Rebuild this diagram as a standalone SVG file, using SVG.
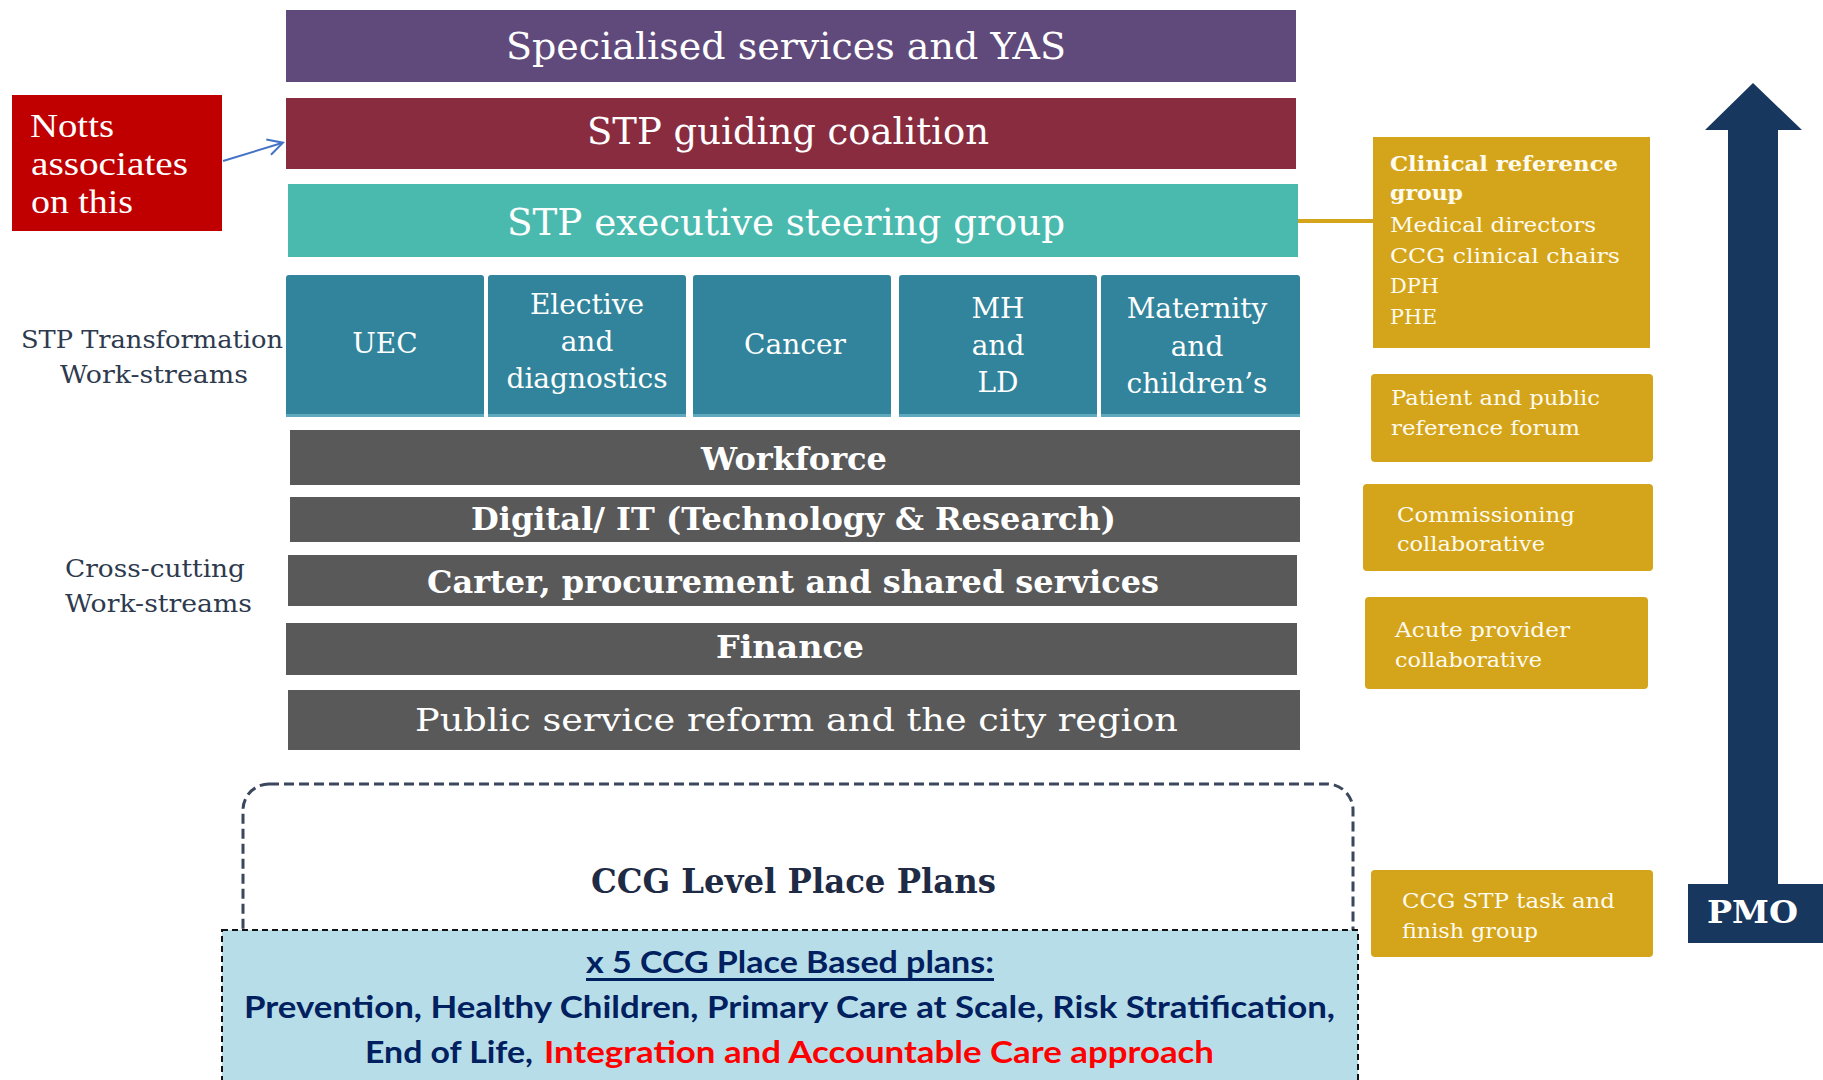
<svg xmlns="http://www.w3.org/2000/svg" width="1823" height="1080" viewBox="0 0 1823 1080">
<defs>
<style>
.slab{font-family:"DejaVu Serif","Liberation Serif",serif;}
.title{font-size:37px;fill:#ffffff;}
.ws{font-size:28px;fill:#ffffff;text-anchor:middle;}
.cc{font-size:31px;fill:#ffffff;font-weight:bold;}
.ccr{font-size:31px;fill:#ffffff;}
.lbl{font-size:25px;fill:#2E3A4E;}
.gold{fill:#D4A51B;}
.gt{font-size:20px;fill:#FFFBEF;}
.cal{font-family:Lato,"Open Sans","Liberation Sans",sans-serif;font-weight:bold;font-size:31px;}
.navy{fill:#002060;}
.red{fill:#FF0000;}
.notts{font-family:"Liberation Serif","DejaVu Serif",serif;font-size:34px;fill:#ffffff;}
.wsbox{fill:#31849B;}
.wsline{fill:#5FA9BF;}
.grey{fill:#595959;}
</style>
<marker id="openArrow" markerWidth="18" markerHeight="18" refX="15" refY="9" orient="auto" markerUnits="userSpaceOnUse">
<path d="M1,1 L16,9 L1,17" fill="none" stroke="#4472C4" stroke-width="2"/>
</marker>
</defs>
<rect width="1823" height="1080" fill="#ffffff"/>

<g id="specialised">
<rect x="286" y="10" width="1010" height="72" fill="#604A7B"/>
<text class="slab title" x="506" y="59" textLength="560" lengthAdjust="spacingAndGlyphs">Specialised services and YAS</text>
</g>
<g id="guiding-coalition">
<rect x="286" y="98" width="1010" height="71" fill="#892C40"/>
<text class="slab title" x="587" y="144" textLength="402" lengthAdjust="spacingAndGlyphs">STP guiding coalition</text>
</g>
<g id="exec-steering">
<rect x="288" y="184" width="1010" height="73" fill="#4ABAAF"/>
<text class="slab title" x="507" y="235" textLength="558" lengthAdjust="spacingAndGlyphs">STP executive steering group</text>
</g>

<g id="ws-uec">
<rect class="wsbox" x="286" y="275" width="198" height="142" rx="3"/>
<rect class="wsline" x="286" y="414" width="198" height="3"/>
<text class="slab ws" x="385" y="353">UEC</text>
</g>
<g id="ws-elective">
<rect class="wsbox" x="488" y="275" width="198" height="142" rx="3"/>
<rect class="wsline" x="488" y="414" width="198" height="3"/>
<text class="slab ws" x="587" y="314">Elective</text>
<text class="slab ws" x="587" y="351">and</text>
<text class="slab ws" x="587" y="388">diagnostics</text>
</g>
<g id="ws-cancer">
<rect class="wsbox" x="693" y="275" width="198" height="142" rx="3"/>
<rect class="wsline" x="693" y="414" width="198" height="3"/>
<text class="slab ws" x="795" y="354">Cancer</text>
</g>
<g id="ws-mh">
<rect class="wsbox" x="899" y="275" width="198" height="142" rx="3"/>
<rect class="wsline" x="899" y="414" width="198" height="3"/>
<text class="slab ws" x="998" y="318">MH</text>
<text class="slab ws" x="998" y="355">and</text>
<text class="slab ws" x="998" y="392">LD</text>
</g>
<g id="ws-maternity">
<rect class="wsbox" x="1101" y="275" width="199" height="142" rx="3"/>
<rect class="wsline" x="1101" y="414" width="199" height="3"/>
<text class="slab ws" x="1197" y="318">Maternity</text>
<text class="slab ws" x="1197" y="356">and</text>
<text class="slab ws" x="1197" y="393">children’s</text>
</g>

<g id="workforce">
<rect class="grey" x="290" y="430" width="1010" height="55"/>
<text class="slab cc" x="701" y="470" textLength="186" lengthAdjust="spacingAndGlyphs">Workforce</text>
</g>
<g id="digital">
<rect class="grey" x="290" y="497" width="1010" height="45"/>
<text class="slab cc" x="471" y="530" textLength="645" lengthAdjust="spacingAndGlyphs">Digital/ IT (Technology &amp; Research)</text>
</g>
<g id="carter">
<rect class="grey" x="288" y="555" width="1009" height="51"/>
<text class="slab cc" x="427" y="593" textLength="732" lengthAdjust="spacingAndGlyphs">Carter, procurement and shared services</text>
</g>
<g id="finance">
<rect class="grey" x="286" y="623" width="1011" height="52"/>
<text class="slab cc" x="716" y="658" textLength="148" lengthAdjust="spacingAndGlyphs">Finance</text>
</g>
<g id="public-service">
<rect class="grey" x="288" y="690" width="1012" height="60"/>
<text class="slab ccr" x="415" y="731" textLength="763" lengthAdjust="spacingAndGlyphs">Public service reform and the city region</text>
</g>

<g id="label-transformation">
<text class="slab lbl" x="21" y="348" textLength="262" lengthAdjust="spacingAndGlyphs">STP Transformation</text>
<text class="slab lbl" x="60" y="383" textLength="188" lengthAdjust="spacingAndGlyphs">Work-streams</text>
</g>
<g id="label-crosscutting">
<text class="slab lbl" x="65" y="577" textLength="180" lengthAdjust="spacingAndGlyphs">Cross-cutting</text>
<text class="slab lbl" x="65" y="612" textLength="187" lengthAdjust="spacingAndGlyphs">Work-streams</text>
</g>

<g id="notts">
<rect x="12" y="95" width="210" height="136" fill="#C00000"/>
<text class="notts" x="30" y="137" textLength="84" lengthAdjust="spacingAndGlyphs">Notts</text>
<text class="notts" x="31" y="175" textLength="157" lengthAdjust="spacingAndGlyphs">associates</text>
<text class="notts" x="31" y="213" textLength="102" lengthAdjust="spacingAndGlyphs">on this</text>
</g>

<g id="clinical-reference">
<rect class="gold" x="1373" y="137" width="277" height="211"/>
<text class="slab gt" x="1390" y="171" font-weight="bold" textLength="228" lengthAdjust="spacingAndGlyphs">Clinical reference</text>
<text class="slab gt" x="1390" y="200" font-weight="bold" textLength="73" lengthAdjust="spacingAndGlyphs">group</text>
<text class="slab gt" x="1390" y="232" textLength="206" lengthAdjust="spacingAndGlyphs">Medical directors</text>
<text class="slab gt" x="1390" y="263" textLength="230" lengthAdjust="spacingAndGlyphs">CCG clinical chairs</text>
<text class="slab gt" x="1390" y="293" textLength="49" lengthAdjust="spacingAndGlyphs">DPH</text>
<text class="slab gt" x="1390" y="324" textLength="47" lengthAdjust="spacingAndGlyphs">PHE</text>
</g>
<g id="patient-forum">
<rect class="gold" x="1371" y="374" width="282" height="88" rx="4"/>
<text class="slab gt" x="1391" y="405" textLength="209" lengthAdjust="spacingAndGlyphs">Patient and public</text>
<text class="slab gt" x="1391" y="435" textLength="189" lengthAdjust="spacingAndGlyphs">reference forum</text>
</g>
<g id="commissioning">
<rect class="gold" x="1363" y="484" width="290" height="87" rx="4"/>
<text class="slab gt" x="1397" y="522" textLength="178" lengthAdjust="spacingAndGlyphs">Commissioning</text>
<text class="slab gt" x="1397" y="551" textLength="148" lengthAdjust="spacingAndGlyphs">collaborative</text>
</g>
<g id="acute-provider">
<rect class="gold" x="1365" y="597" width="283" height="92" rx="4"/>
<text class="slab gt" x="1395" y="637" textLength="175" lengthAdjust="spacingAndGlyphs">Acute provider</text>
<text class="slab gt" x="1395" y="667" textLength="147" lengthAdjust="spacingAndGlyphs">collaborative</text>
</g>
<g id="ccg-stp-task">
<rect class="gold" x="1371" y="870" width="282" height="87" rx="4"/>
<text class="slab gt" x="1402" y="908" textLength="213" lengthAdjust="spacingAndGlyphs">CCG STP task and</text>
<text class="slab gt" x="1402" y="938" textLength="136" lengthAdjust="spacingAndGlyphs">finish group</text>
</g>

<g id="pmo">
<polygon points="1753,83 1802,130 1778,130 1778,884 1728,884 1728,130 1705,130" fill="#17375E"/>
<rect x="1688" y="884" width="135" height="59" fill="#17375E"/>
<text class="slab" x="1707" y="923" font-size="31" font-weight="bold" fill="#ffffff" textLength="91" lengthAdjust="spacingAndGlyphs">PMO</text>
</g>

<g id="ccg-level">
<rect x="243" y="784" width="1110" height="320" rx="26" fill="#ffffff" stroke="#3A475C" stroke-width="3" stroke-dasharray="10,5"/>
<text class="slab" x="591" y="893" font-size="33" font-weight="bold" fill="#1F2B45" textLength="405" lengthAdjust="spacingAndGlyphs">CCG Level Place Plans</text>
</g>

<g id="place-based-plans">
<rect x="222" y="930" width="1136" height="170" fill="#B7DEE8" stroke="#111111" stroke-width="2" stroke-dasharray="6,4"/>
<text class="cal navy" x="586" y="973" textLength="408" lengthAdjust="spacingAndGlyphs">x 5 CCG Place Based plans:</text>
<rect x="586" y="978" width="408" height="3" fill="#002060"/>
<text class="cal navy" x="244" y="1018" textLength="1091" lengthAdjust="spacingAndGlyphs">Prevention, Healthy Children, Primary Care at Scale, Risk Stratification,</text>
<text class="cal navy" x="365" y="1063" textLength="168" lengthAdjust="spacingAndGlyphs">End of Life,</text>
<text class="cal red" x="544" y="1063" textLength="670" lengthAdjust="spacingAndGlyphs">Integration and Accountable Care approach</text>
</g>

<g id="connectors">
<line x1="1298" y1="221" x2="1374" y2="221" stroke="#D4A51B" stroke-width="4"/>
<line x1="223" y1="161" x2="282" y2="143" stroke="#4472C4" stroke-width="2" marker-end="url(#openArrow)"/>
</g>
</svg>
